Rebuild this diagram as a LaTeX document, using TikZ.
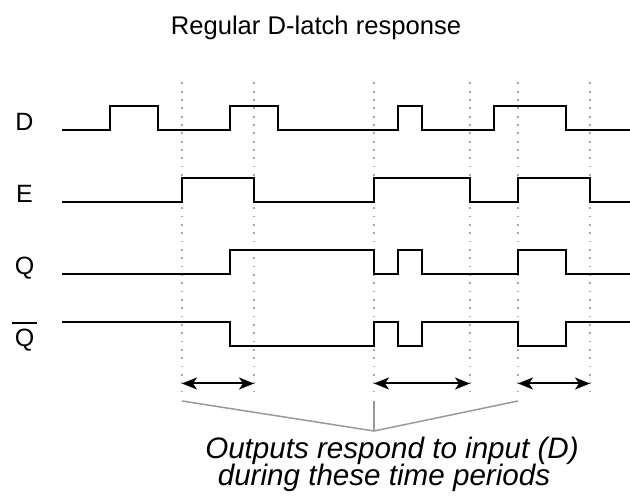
\documentclass[tikz,border=0pt]{standalone}
\usepackage{fontspec}
\setmainfont{Liberation Sans}
\usetikzlibrary{arrows.meta}
\begin{document}
\begin{tikzpicture}[x=1pt,y=-1pt,
  sig/.style={line width=2pt, line join=miter},
  guide/.style={gray!70, line width=1.7pt, dash pattern=on 1.7pt off 6.63pt},
  span/.style={line width=2pt, {Stealth[length=15pt,width=12pt,inset=4pt]}-{Stealth[length=15pt,width=12pt,inset=4pt]}},
  bracket/.style={gray!80, line width=1.5pt},
  lbl/.style={font=\fontsize{25}{30}\selectfont, anchor=base, inner sep=0pt},
  capt/.style={font=\fontsize{29.6}{30}\selectfont\itshape, anchor=base, inner sep=0pt}]
\useasboundingbox (0,0) rectangle (630,497);

% title
\node[lbl, font=\fontsize{25.6}{30}\selectfont] (title) at (316,35) {Regular D-latch response};

% signal labels
\node[lbl] (lD) at (24.5,130.5) {D};
\node[lbl] (lE) at (24.5,202.5) {E};
\node[lbl] (lQ) at (24.5,274.5) {Q};
\node[lbl] (lQb) at (24.5,346.5) {\vbox{\hrule height 1.6pt\kern 5pt\hbox{\kern3pt Q\kern3pt}}};

% dotted time guides
\foreach \n/\x in {1/182,2/254,3/374,4/470,5/518,6/590}{
  \coordinate (t\n) at (\x,82.5);
  \coordinate (b\n) at (\x,398);
  \draw[guide] (t\n) -- (b\n);
}

% D
\draw[sig] (62,130.5) -- (110,130.5) -- (110,106.5) -- (158,106.5) -- (158,130.5)
  -- (230,130.5) -- (230,106.5) -- (278,106.5) -- (278,130.5)
  -- (398,130.5) -- (398,106.5) -- (422,106.5) -- (422,130.5)
  -- (494,130.5) -- (494,106.5) -- (566,106.5) -- (566,130.5) -- (630,130.5);
% E
\draw[sig] (62,202.5) -- (182,202.5) -- (182,178.5) -- (254,178.5) -- (254,202.5)
  -- (374,202.5) -- (374,178.5) -- (470,178.5) -- (470,202.5)
  -- (518,202.5) -- (518,178.5) -- (590,178.5) -- (590,202.5) -- (630,202.5);
% Q
\draw[sig] (62,274.5) -- (230,274.5) -- (230,250.5) -- (374,250.5) -- (374,274.5)
  -- (398,274.5) -- (398,250.5) -- (422,250.5) -- (422,274.5)
  -- (518,274.5) -- (518,250.5) -- (566,250.5) -- (566,274.5) -- (630,274.5);
% Q bar
\draw[sig] (62,322.5) -- (230,322.5) -- (230,346.5) -- (374,346.5) -- (374,322.5)
  -- (398,322.5) -- (398,346.5) -- (422,346.5) -- (422,322.5)
  -- (518,322.5) -- (518,346.5) -- (566,346.5) -- (566,322.5) -- (630,322.5);

% period arrows
\coordinate (a1) at (182,383.5); \coordinate (a2) at (254,383.5);
\coordinate (a3) at (374,383.5); \coordinate (a4) at (470,383.5);
\coordinate (a5) at (518,383.5); \coordinate (a6) at (590,383.5);
\draw[span] (a1) -- (a2);
\draw[span] (a3) -- (a4);
\draw[span] (a5) -- (a6);

% bracket
\coordinate (k1) at (182,401);
\coordinate (k2) at (374,401);
\coordinate (k3) at (518,401);
\coordinate (kp) at (374,431);
\draw[bracket] (k1) -- (kp) -- (k3);
\draw[bracket] (k2) -- (kp);

% caption
\node[capt] (c1) at (392,458) {Outputs respond to input (D)};
\node[capt] (c2) at (384,485) {during these time periods};
\end{tikzpicture}
\end{document}
